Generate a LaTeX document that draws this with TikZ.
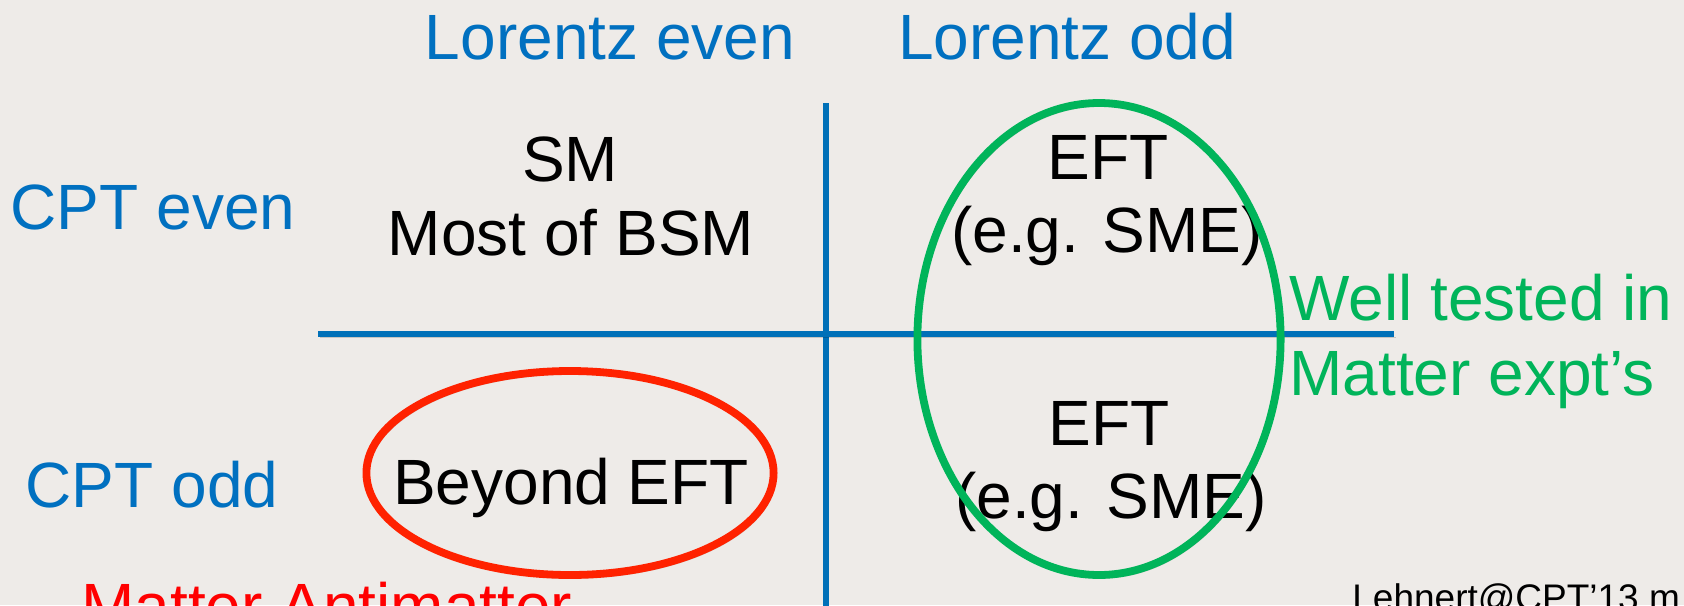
\documentclass[tikz,border=0pt]{standalone}
\usepackage{fontspec}
\setmainfont{Liberation Sans}
\definecolor{bg}{RGB}{238,235,232}
\definecolor{axisblue}{RGB}{0,112,184}
\definecolor{txtblue}{RGB}{0,112,192}
\definecolor{eftgreen}{RGB}{0,180,90}
\definecolor{ringred}{RGB}{255,34,0}
\definecolor{mattred}{RGB}{255,0,0}
\tikzset{
  shadowed/.style={preaction={draw=black, opacity=0.16, transform canvas={shift={(1pt,-1.6pt)}}}},
  axis/.style={draw=axisblue, line width=2.8pt, shadowed},
  ring/.style={line width=3.9pt, shadowed},
  bigtxt/.style={inner sep=0pt, font=\fontsize{32}{38}\selectfont},
  head/.style={bigtxt, text=txtblue},
  cell/.style={bigtxt, text=black},
  note/.style={bigtxt, text=eftgreen, anchor=base west},
  small/.style={inner sep=0pt, font=\fontsize{18.5}{22}\selectfont, anchor=base west}
}
\begin{document}
\begin{tikzpicture}[x=0.5pt, y=-0.5pt]
  \useasboundingbox (0,0) rectangle (1684,605);
  \clip (0,0) rectangle (1684,605);
  \fill[bg] (0,0) rectangle (1684,605);

  % axes
  \coordinate (vtop) at (826,103);
  \coordinate (vbot) at (826,620);
  \coordinate (hleft) at (318,334);
  \coordinate (hright) at (1394,334);
  \draw[axis] (vtop) -- (vbot);
  \draw[axis] (hleft) -- (hright);

  % headers
  \node[head, anchor=base] (lev) at (610,59) {Lorentz even};
  \node[head, anchor=base] (lod) at (1067,59) {Lorentz odd};
  \node[head, anchor=base] (cev) at (153,229) {CPT even};
  \node[head, anchor=base] (cod) at (152,507) {CPT odd};

  % cells
  \node[cell, anchor=base] (sm) at (570,181) {SM};
  \node[cell, anchor=base] (bsm) at (571,255) {Most of BSM};
  \node[cell, anchor=base] (eft1) at (1108,179) {EFT};
  \node[cell, anchor=base] (sme1) at (1107,252) {(e.g. SME)};
  \node[cell, anchor=base] (eft2) at (1109,445) {EFT};
  \node[cell, anchor=base] (sme2) at (1111,518) {(e.g. SME)};
  \node[cell, anchor=base] (beyond) at (571,504) {Beyond EFT};

  % rings
  \draw[ring, draw=eftgreen] (1099,339) ellipse [x radius=90.8pt, y radius=118pt];
  \draw[ring, draw=ringred] (570,473) ellipse [x radius=101.8pt, y radius=51pt];

  % side notes
  \node[note] (well) at (1289,320) {Well tested in};
  \node[note] (matt) at (1289,395) {Matter expt’s};
  \node[bigtxt, text=mattred, anchor=base west] (ma) at (81,628) {Matter Antimatter};
  \node[small] (cred) at (1352,610) {Lehnert@CPT’13 m};
\end{tikzpicture}
\end{document}
